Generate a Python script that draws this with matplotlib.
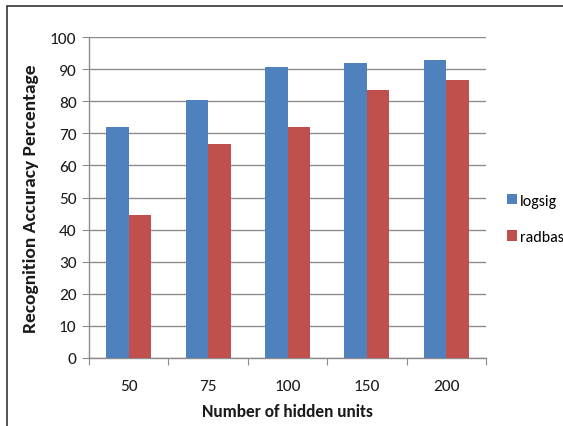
import matplotlib
matplotlib.use("Agg")
import matplotlib.pyplot as plt
from matplotlib.patches import Rectangle
import numpy as np

categories = ["50", "75", "100", "150", "200"]
logsig = [72, 80.5, 90.5, 92, 92.7]
radbas = [44.5, 66.6, 72, 83.6, 86.7]
series_names = ["logsig", "radbas"]
y_ticks = [0, 10, 20, 30, 40, 50, 60, 70, 80, 90, 100]

blue = "#4F81BD"
red = "#C0504D"
grid_c = "#8C8C8C"
text_c = "#1A1A1A"
font = ["Carlito", "DejaVu Sans"]

fig = plt.figure(figsize=(5.63, 4.27), dpi=100)
W, H = 563, 427
ax = fig.add_axes([89 / W, 1 - 359 / H, (486 - 89) / W, (359 - 38) / H])

x = np.arange(len(categories))
bw = 0.283
ax.bar(x - bw / 2, logsig, width=bw, color=blue, label=series_names[0], zorder=3)
ax.bar(x + bw / 2, radbas, width=bw, color=red, label=series_names[1], zorder=3)

ax.set_xlim(-0.5, len(categories) - 0.5)
ax.set_ylim(0, 100)
ax.set_yticks(y_ticks)
ax.set_yticklabels([str(v) for v in y_ticks], fontsize=12.5, family=font, color=text_c)
ax.yaxis.grid(True, color=grid_c, linewidth=1.0, zorder=0)

# category boundaries carry tick marks; labels sit at the centres
ax.set_xticks(np.arange(len(categories) + 1) - 0.5)
ax.set_xticklabels([])
ax.set_xticks(x, minor=True)
ax.set_xticklabels(categories, minor=True, fontsize=12.5, family=font, color=text_c)
ax.tick_params(axis="x", which="minor", length=0, pad=15)
ax.tick_params(axis="x", which="major", length=5, color=grid_c, direction="out")
ax.tick_params(axis="y", length=5, color=grid_c, direction="out", pad=4)

for s in ["top", "right"]:
    ax.spines[s].set_visible(False)
for s in ["left", "bottom"]:
    ax.spines[s].set_color(grid_c)
    ax.spines[s].set_linewidth(1.0)
ax.set_axisbelow(True)

ax.set_xlabel("Number of hidden units", fontsize=12.5, fontweight="bold", family=font,
              color=text_c, labelpad=7)
ax.set_ylabel("Recognition Accuracy Percentage", fontsize=14, fontweight="bold",
              family=font, color=text_c, labelpad=8)

fig.legend(loc="center left", bbox_to_anchor=(507 / W, 1 - 220 / H), frameon=False,
           borderpad=0, borderaxespad=0,
           handlelength=0.6, handleheight=0.6, handletextpad=0.2, labelspacing=1.4,
           prop={"family": font, "size": 11.5})

# chart border
fig.patches.append(Rectangle((7 / W, -0.01), 1.0, 1 - 7 / H + 0.01,
                             transform=fig.transFigure, fill=False,
                             edgecolor="#333333", linewidth=1.2))

fig.savefig("out.png", dpi=100)
